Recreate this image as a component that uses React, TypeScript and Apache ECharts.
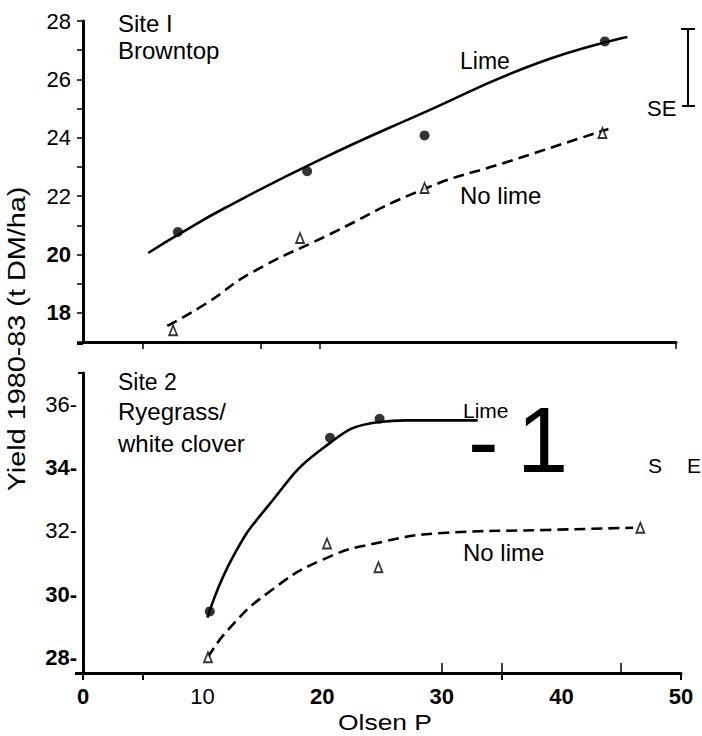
import React, { useEffect, useRef } from "react";
import * as echarts from "echarts";

// ---- Data (Olsen P, yield t DM/ha) ----
// Site 1 (Browntop)
const site1LimePoints = [[8.0, 20.77], [18.9, 22.85], [28.8, 24.08], [44.0, 27.3]];
const site1NoLimePoints = [[7.6, 17.4], [18.3, 20.56], [28.8, 22.28], [43.8, 24.16]];
const site1LimeCurve = [
  [5.5, 20.05], [8.2, 20.72], [12.0, 21.6], [20.0, 23.25], [28.4, 24.8], [38.3, 26.55], [45.9, 27.45],
];
const site1NoLimeCurve = [
  [7.1, 17.55], [10.5, 18.35], [14.1, 19.35], [20.6, 20.65], [28.8, 22.25], [36.0, 23.2], [44.3, 24.3],
];
// Site 2 (Ryegrass / white clover)
const site2LimePoints = [[10.6, 29.45], [20.65, 34.95], [24.8, 35.55]];
const site2NoLimePoints = [[10.45, 28.0], [20.4, 31.6], [24.7, 30.85], [46.6, 32.1]];
const site2LimeCurve = [
  [10.4, 29.25], [12.5, 31.15], [15.5, 32.8], [20.0, 34.6], [24.8, 35.45], [27.0, 35.5], [33.0, 35.5],
];
const site2NoLimeCurve = [
  [10.45, 28.0], [12.2, 28.9], [15.5, 30.05], [20.1, 31.1], [25.0, 31.65], [30.4, 31.94],
  [38.8, 32.03], [46.0, 32.1],
];

// Tick labels
const site1YLabels = [18, 20, 22, 24, 26, 28];
const site1YBold = [18, 20];
const site2YLabels = [28, 30, 32, 34, 36];
const site2YBold = [28, 30, 34];
const xLabels = [0, 10, 20, 30, 40, 50];
const xLight = [10];

const FONT = "'Liberation Sans', Arial, Helvetica, sans-serif";
const BLACK = "#000";

const richStyles = {
  n: { fontFamily: FONT, fontSize: 22, color: BLACK, fontWeight: "normal" },
  b: { fontFamily: FONT, fontSize: 22, color: BLACK, fontWeight: "bold" },
};

function txt(text: string, x: number, y: number, size: number, extra: any = {}) {
  const { lineHeight, align, ...rest } = extra;
  const style: any = {
    text,
    fontFamily: FONT,
    fontSize: size,
    fill: BLACK,
    align: align || "left",
    textAlign: align || "left",
    verticalAlign: "middle",
    textVerticalAlign: "middle",
  };
  if (lineHeight) style.lineHeight = lineHeight;
  return { type: "text", x, y, ...rest, style };
}

function ln(x1: number, y1: number, x2: number, y2: number, w = 2) {
  return { type: "line", shape: { x1, y1, x2, y2 }, style: { stroke: BLACK, lineWidth: w } };
}

export default function App() {
  const ref = useRef<HTMLDivElement>(null);

  useEffect(() => {
    if (!ref.current) return;
    const chart = echarts.init(ref.current, null, { renderer: "svg" });

    const solid = { color: BLACK, width: 2.6, type: "solid" };
    const dashed = { color: BLACK, width: 2.6, type: [11, 6] };
    const circle = {
      type: "scatter",
      symbol: "circle",
      symbolSize: 10,
      itemStyle: { color: BLACK },
      z: 5,
    };
    const tri = {
      type: "scatter",
      symbol: "triangle",
      symbolSize: [8, 10],
      itemStyle: { color: "#fff", borderColor: BLACK, borderWidth: 1.8 },
      z: 5,
    };
    const curve = { type: "line", showSymbol: false, smooth: 0.5 };

    const option: any = {
      animation: false,
      backgroundColor: "#fff",
      grid: [
        { left: 83, top: 21, width: 593, height: 321 },
        { left: 83, top: 373, width: 598, height: 300 },
      ],
      xAxis: [
        {
          gridIndex: 0,
          type: "value",
          min: 0,
          max: 50,
          axisLine: { onZero: false, lineStyle: { color: BLACK, width: 3 } },
          axisTick: { show: true, customValues: [5, 15, 20, 50], length: 7, lineStyle: { color: BLACK, width: 1.5 } },
          axisLabel: { show: false },
          splitLine: { show: false },
        },
        {
          gridIndex: 1,
          type: "value",
          min: 0,
          max: 50,
          interval: 10,
          axisLine: { onZero: false, lineStyle: { color: BLACK, width: 3 } },
          axisTick: { show: true, customValues: [0, 5, 35, 50], length: 7, lineStyle: { color: BLACK, width: 2 } },
          axisLabel: {
            customValues: xLabels,
            margin: 12,
            fontFamily: FONT,
            fontSize: 22,
            color: BLACK,
            formatter: (v: number) => (xLight.includes(v) ? `{n|${v}}` : `{b|${v}}`),
            rich: richStyles,
          },
          splitLine: { show: false },
        },
        {
          gridIndex: 1,
          type: "value",
          position: "bottom",
          min: 0,
          max: 50,
          axisLine: { show: false, onZero: false },
          axisTick: { show: true, inside: true, customValues: [30, 35, 45], length: 10, lineStyle: { color: BLACK, width: 1.5 } },
          axisLabel: { show: false },
          splitLine: { show: false },
        },
      ],
      yAxis: [
        {
          gridIndex: 0,
          type: "value",
          min: 17,
          max: 28,
          interval: 1,
          axisLine: { show: true, onZero: false, lineStyle: { color: BLACK, width: 3 } },
          axisTick: { show: true, length: 6, lineStyle: { color: BLACK, width: 1.5 } },
          axisLabel: {
            margin: 12,
            fontFamily: FONT,
            fontSize: 22,
            color: BLACK,
            formatter: (v: number) =>
              site1YLabels.includes(v) ? (site1YBold.includes(v) ? `{b|${v}}` : `{n|${v}}`) : "",
            rich: richStyles,
          },
          splitLine: { show: false },
        },
        {
          gridIndex: 1,
          type: "value",
          min: 27.5,
          max: 37,
          axisLine: { show: true, onZero: false, lineStyle: { color: BLACK, width: 3 } },
          axisTick: { show: true, customValues: [37], length: 5, lineStyle: { color: BLACK, width: 2 } },
          axisLabel: {
            customValues: site2YLabels,
            margin: 6,
            fontFamily: FONT,
            fontSize: 22,
            color: BLACK,
            formatter: (v: number) => (site2YBold.includes(v) ? `{b|${v}-}` : `{n|${v}-}`),
            rich: richStyles,
          },
          splitLine: { show: false },
        },
      ],
      series: [
        { ...curve, name: "Site 1 Lime curve", xAxisIndex: 0, yAxisIndex: 0, data: site1LimeCurve, lineStyle: solid },
        { ...curve, name: "Site 1 No lime curve", xAxisIndex: 0, yAxisIndex: 0, data: site1NoLimeCurve, lineStyle: dashed },
        { ...circle, name: "Site 1 Lime", xAxisIndex: 0, yAxisIndex: 0, data: site1LimePoints },
        { ...tri, name: "Site 1 No lime", xAxisIndex: 0, yAxisIndex: 0, data: site1NoLimePoints },
        { ...curve, name: "Site 2 Lime curve", xAxisIndex: 1, yAxisIndex: 1, data: site2LimeCurve, lineStyle: solid },
        { ...curve, name: "Site 2 No lime curve", xAxisIndex: 1, yAxisIndex: 1, data: site2NoLimeCurve, lineStyle: dashed },
        { ...circle, name: "Site 2 Lime", xAxisIndex: 1, yAxisIndex: 1, data: site2LimePoints },
        { ...tri, name: "Site 2 No lime", xAxisIndex: 1, yAxisIndex: 1, data: site2NoLimePoints },
      ],
      graphic: [
        // Axis titles
        txt("Yield 1980-83 (t DM/ha)", 17, 339, 24, { rotation: Math.PI / 2, scaleX: 1.2, align: "center" }),
        txt("Olsen P", 385, 722, 22, { scaleX: 1.2, align: "center" }),
        // small axis-line stubs left of the y axes
        ln(77, 343.5, 83, 343.5, 3),
        ln(75, 673.5, 83, 673.5, 3),
        // Site 1 annotations
        txt("Site I", 118, 23, 24),
        txt("Browntop", 118, 50, 24),
        txt("Lime", 460, 61, 23),
        txt("No lime", 460, 195, 24),
        txt("SE", 647, 108, 22),
        ln(688, 29, 688, 106, 2),
        ln(681, 29, 695, 29, 2),
        ln(682, 106, 695, 106, 2),
        // Site 2 annotations
        txt("Site 2", 118, 382, 23),
        txt("Ryegrass/", 118, 411, 24),
        txt("white clover", 118, 443, 24),
        txt("Lime", 463, 410, 21),
        txt("-", 468, 441, 92, { lineHeight: 30 }),
        txt("1", 517, 440, 92, { lineHeight: 70 }),
        txt("S", 648, 465, 21),
        txt("E", 687, 465, 21),
        txt("No lime", 463, 552, 24),
      ],
    };

    chart.setOption(option);
    return () => chart.dispose();
  }, []);

  return (
    <div
      ref={ref}
      style={{ position: "fixed", left: 0, top: 0, width: 702, height: 736, background: "#fff" }}
    />
  );
}
